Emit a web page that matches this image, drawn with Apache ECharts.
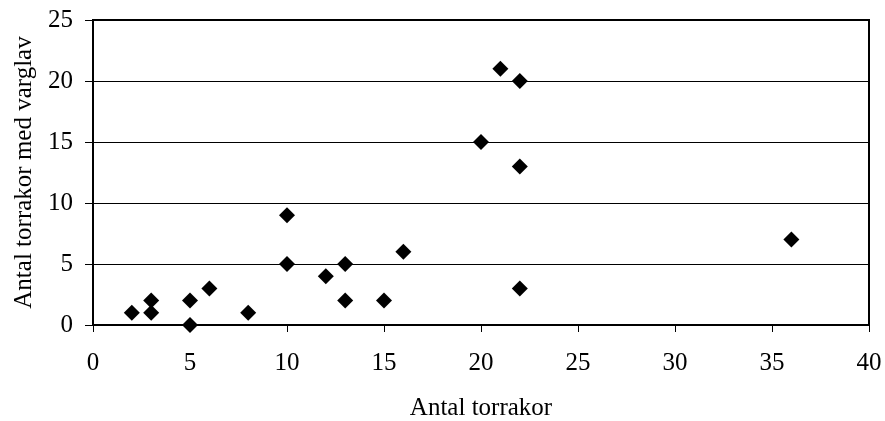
<!DOCTYPE html>
<html>
<head>
	<meta charset="UTF-8" />
	<title>Torrakor med varglav</title>
	<script src="https://cdn.jsdelivr.net/npm/echarts@6/dist/echarts.min.js"></script>
	<style>
		html, body { margin: 0; padding: 0; background: #fff; }
		#chart { width: 885px; height: 421px; }
	</style>
</head>
<body>
	<div id="chart"></div>
	<script type="text/javascript">
		// antal torrakor (x) och antal torrakor med varglav (y)
		const torrakor = [2, 3, 3, 5, 5, 6, 8, 10, 10, 12, 13, 13, 15, 16, 20, 21, 22, 22, 22, 36];
		const medVarglav = [1, 2, 1, 2, 0, 3, 1, 9, 5, 4, 5, 2, 2, 6, 15, 21, 20, 13, 3, 7];

		const points = torrakor.map((x, i) => [x, medVarglav[i]]);
		const font = "Liberation Serif";

		const chart = echarts.init(document.getElementById("chart"));
		chart.setOption({
			animation: false,
			grid: {
				left: 93, right: 16, top: 20, bottom: 96,
				outerBoundsMode: "none",
				show: true, borderColor: "#000", borderWidth: 2
			},
			xAxis: {
				type: "value", min: 0, max: 40, interval: 5,
				name: "Antal torrakor", nameLocation: "middle", nameGap: 71,
				nameTextStyle: { fontFamily: font, fontSize: 25, color: "#000" },
				axisLine: { show: true, onZero: false, lineStyle: { color: "#000", width: 2 } },
				axisTick: { show: true, length: 7, lineStyle: { color: "#000" } },
				axisLabel: { fontFamily: font, fontSize: 25, color: "#000", margin: 26 },
				splitLine: { show: false }
			},
			yAxis: {
				type: "value", min: 0, max: 25, interval: 5,
				name: "Antal torrakor med varglav", nameLocation: "middle", nameGap: 56,
				nameTextStyle: { fontFamily: font, fontSize: 25, color: "#000" },
				axisLine: { show: true, lineStyle: { color: "#000", width: 2 } },
				axisTick: { show: true, length: 8, lineStyle: { color: "#000" } },
				axisLabel: { fontFamily: font, fontSize: 25, color: "#000", margin: 20 },
				splitLine: { show: true, lineStyle: { color: "#000", width: 1 } }
			},
			series: [{
				type: "scatter",
				data: points,
				symbol: "diamond",
				symbolSize: 16,
				itemStyle: { color: "#000", opacity: 1 }
			}]
		});
	</script>
</body>
</html>
